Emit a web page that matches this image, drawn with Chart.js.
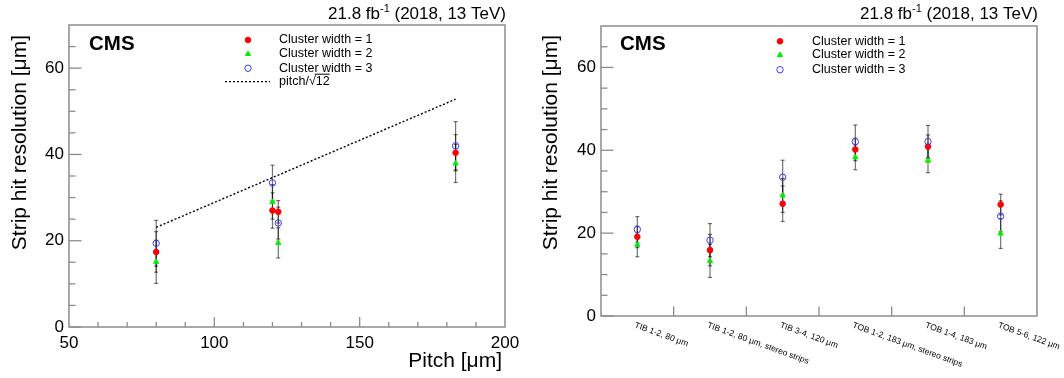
<!DOCTYPE html>
<html>
<head>
<meta charset="utf-8">
<script src="https://cdn.jsdelivr.net/npm/chart.js@4.4.1/dist/chart.umd.min.js"></script>
<style>
    html, body { margin: 0; padding: 0; background: #fff; }
    #wrap { position: relative; width: 1064px; height: 378px; overflow: hidden; }
    .panel { position: absolute; top: 0; }
</style>
</head>
<body>
<div id="wrap">
    <div class="panel" style="left:0"><canvas id="pitchChart" width="532" height="378"></canvas></div>
    <div class="panel" style="left:532px"><canvas id="layerChart" width="532" height="378"></canvas></div>
</div>
<script>
// Painel esquerdo: resolução vs pitch
const pitch = [80, 120, 122, 183];
const pitchCw1 = [17.4, 27.0, 26.7, 40.4];
const pitchCw2 = [15.1, 29.0, 19.5, 37.9];
const pitchCw3 = [19.4, 33.4, 24.1, 42.0];
const pitchErr1 = [4.7, 4.1, 2.6, 4.2];
const pitchErr2 = [5.0, 4.0, 3.5, 4.4];
const pitchErr3 = [5.3, 4.1, 3.7, 5.6];
const sqrt12X = [80, 183];
const sqrt12Y = [23.1, 52.8];

// Painel direito: resolução por camada
const layers = ['TIB 1-2, 80 \u03bcm', 'TIB 1-2, 80 \u03bcm, stereo strips', 'TIB 3-4, 120 \u03bcm',
    'TOB 1-2, 183 \u03bcm, stereo strips', 'TOB 1-4, 183 \u03bcm', 'TOB 5-6, 122 \u03bcm'];
const layerCw1 = [19.1, 15.9, 27.1, 40.2, 40.9, 26.9];
const layerCw2 = [17.2, 13.3, 29.1, 38.3, 37.5, 19.9];
const layerCw3 = [20.9, 18.3, 33.5, 42.1, 42.1, 24.1];
const layerErr1 = [2.6, 3.8, 4.3, 2.7, 2.8, 2.5];
const layerErr2 = [2.9, 4.0, 4.1, 3.0, 2.9, 3.6];
const layerErr3 = [3.1, 4.0, 4.1, 4.0, 3.9, 3.7];

const legendLabels = ['Cluster width = 1', 'Cluster width = 2', 'Cluster width = 3'];

const FONT = "'Liberation Sans', Arial, Helvetica, sans-serif";
const RED = '#ff0000', GREEN = '#00ee00', BLUE = '#3a3aff';
const markers = [
    { pointStyle: 'circle', radius: 2.8, bg: RED, border: RED, bw: 1 },
    { pointStyle: 'triangle', radius: 3, bg: GREEN, border: GREEN, bw: 1 },
    { pointStyle: 'circle', radius: 3.2, bg: 'rgba(0,0,0,0)', border: BLUE, bw: 1 }
];

function markerDataset(label, data, m) {
    return {
        label: label, data: data, showLine: false,
        pointStyle: m.pointStyle, pointRadius: m.radius,
        pointBackgroundColor: m.bg, pointBorderColor: m.border, pointBorderWidth: m.bw,
        backgroundColor: m.bg, borderColor: m.border
    };
}

function line(ctx, x1, y1, x2, y2) {
    ctx.beginPath(); ctx.moveTo(x1, y1); ctx.lineTo(x2, y2); ctx.stroke();
}

function drawErrors(chart, xs, ys, errs) {
    const { ctx, scales: { x, y } } = chart;
    ctx.save();
    ctx.strokeStyle = 'rgba(0,0,0,0.55)';
    ctx.lineWidth = 1.2;
    xs.forEach((xv, i) => {
        const px = x.getPixelForValue(xv);
        const top = y.getPixelForValue(ys[i] + errs[i]);
        const bot = y.getPixelForValue(ys[i] - errs[i]);
        line(ctx, px, top, px, bot);
        line(ctx, px - 2, top, px + 2, top);
        line(ctx, px - 2, bot, px + 2, bot);
    });
    ctx.restore();
}

function drawFrame(chart, xTickList) {
    const { ctx, chartArea: a, scales: { y } } = chart;
    ctx.save();
    ctx.strokeStyle = '#8c8c8c';
    ctx.lineWidth = 1.5;
    ctx.strokeRect(a.left, a.top, a.right - a.left, a.bottom - a.top);
    ctx.lineWidth = 1.3;
    for (let v = 0; v < 70; v += 5) {
        const py = y.getPixelForValue(v);
        line(ctx, a.left, py, a.left + (v % 20 === 0 ? 12.5 : 6.5), py);
    }
    xTickList.forEach(t => line(ctx, t.px, a.bottom, t.px, a.bottom - t.len));
    ctx.restore();
}

function drawHeader(chart, cmsX) {
    const { ctx, chartArea: a } = chart;
    ctx.save();
    ctx.fillStyle = '#000';
    ctx.textBaseline = 'alphabetic';
    ctx.font = '17px ' + FONT;
    const t1 = '21.8 fb', t3 = ' (2018, 13 TeV)';
    const w1 = ctx.measureText(t1).width, w3 = ctx.measureText(t3).width;
    ctx.font = '11px ' + FONT;
    const w2 = ctx.measureText('-1').width;
    let sx = a.right + 1 - (w1 + w2 + w3);
    ctx.font = '17px ' + FONT;
    ctx.fillText(t1, sx, 18.5);
    ctx.font = '11px ' + FONT;
    ctx.fillText('-1', sx + w1, 11.5);
    ctx.font = '17px ' + FONT;
    ctx.fillText(t3, sx + w1 + w2, 18.5);
    // CMS
    ctx.font = 'bold 20.5px ' + FONT;
    ctx.fillText('CMS', cmsX, 50);
    ctx.restore();
}

function drawYTitle(chart, cx) {
    const ctx = chart.ctx;
    ctx.save();
    ctx.fillStyle = '#000';
    ctx.font = '21px ' + FONT;
    ctx.translate(cx, 35);
    ctx.rotate(-Math.PI / 2);
    ctx.textAlign = 'right';
    ctx.textBaseline = 'middle';
    ctx.fillText('Strip hit resolution [\u03bcm]', 0, 0);
    ctx.restore();
}

function drawLegend(chart, mx, tx, rows, withLine) {
    const ctx = chart.ctx;
    ctx.save();
    ctx.font = '12.5px ' + FONT;
    ctx.textBaseline = 'middle';
    markers.forEach((m, i) => {
        ctx.fillStyle = m.bg;
        ctx.strokeStyle = m.border;
        ctx.lineWidth = m.bw;
        Chart.helpers.drawPoint(ctx, { pointStyle: m.pointStyle, radius: m.radius, rotation: 0, borderWidth: m.bw }, mx, rows[i]);
        ctx.fillStyle = '#000';
        ctx.fillText(legendLabels[i], tx, rows[i]);
    });
    if (withLine) {
        const ly = rows[3];
        ctx.strokeStyle = '#000';
        ctx.lineWidth = 1.3;
        ctx.setLineDash([2, 2]);
        line(ctx, mx - 23, ly, mx + 22, ly);
        ctx.setLineDash([]);
        const p1 = 'pitch/', p2 = '\u221a', p3 = '12';
        const w1 = ctx.measureText(p1).width, w2 = ctx.measureText(p2).width, w3 = ctx.measureText(p3).width;
        ctx.fillText(p1 + p2 + p3, tx, ly);
        ctx.lineWidth = 1;
        line(ctx, tx + w1 + w2 - 1, ly - 7.5, tx + w1 + w2 + w3, ly - 7.5);
    }
    ctx.restore();
}

// ============================================================
// Gráfico 1: pitch
// ============================================================
const pitchPlugin = {
    id: 'pitchDecor',
    beforeDatasetsDraw(chart) {
        const xs = chart.scales.x;
        const ticks = [];
        for (let v = 60; v < 200; v += 10) {
            ticks.push({ px: xs.getPixelForValue(v), len: v % 50 === 0 ? 10 : 5 });
        }
        drawFrame(chart, ticks);
        drawErrors(chart, pitch, pitchCw1, pitchErr1);
        drawErrors(chart, pitch, pitchCw2, pitchErr2);
        drawErrors(chart, pitch, pitchCw3, pitchErr3);
    },
    afterDraw(chart) {
        const ctx = chart.ctx, a = chart.chartArea;
        drawHeader(chart, 89);
        drawYTitle(chart, 20.5);
        drawLegend(chart, 248, 279, [40, 54, 68.3, 81.7], true);
        ctx.save();
        ctx.fillStyle = '#000';
        ctx.font = '21px ' + FONT;
        ctx.textAlign = 'right';
        ctx.fillText('Pitch [\u03bcm]', a.right - 3, 366.5);
        ctx.restore();
    }
};

new Chart(document.getElementById('pitchChart'), {
    type: 'scatter',
    data: {
        datasets: [
            {
                type: 'line', label: 'pitch/sqrt12',
                data: sqrt12X.map((v, i) => ({ x: v, y: sqrt12Y[i] })),
                borderColor: '#000', borderWidth: 1.4, borderDash: [2, 2],
                pointRadius: 0, fill: false
            },
            markerDataset(legendLabels[2], pitch.map((v, i) => ({ x: v, y: pitchCw3[i] })), markers[2]),
            markerDataset(legendLabels[1], pitch.map((v, i) => ({ x: v, y: pitchCw2[i] })), markers[1]),
            markerDataset(legendLabels[0], pitch.map((v, i) => ({ x: v, y: pitchCw1[i] })), markers[0])
        ]
    },
    options: {
        responsive: false, animation: false, events: [],
        layout: { padding: { top: 25, right: 27, left: 0, bottom: 0 } },
        plugins: { legend: { display: false }, tooltip: { enabled: false } },
        scales: {
            x: {
                type: 'linear', min: 50, max: 200,
                grid: { display: false, drawTicks: false }, border: { display: false },
                ticks: { stepSize: 50, padding: 6, color: '#000', font: { size: 17, family: FONT } },
                afterFit: s => { s.height = 51; }
            },
            y: {
                min: 0, max: 70,
                grid: { display: false, drawTicks: false }, border: { display: false },
                ticks: { stepSize: 20, includeBounds: false, padding: 5, color: '#000', font: { size: 17, family: FONT } },
                afterFit: s => { s.width = 69; }
            }
        }
    },
    plugins: [pitchPlugin]
});

// ============================================================
// Gráfico 2: camadas
// ============================================================
const layerIdx = layers.map((l, i) => i);
const layerPlugin = {
    id: 'layerDecor',
    beforeDatasetsDraw(chart) {
        const xs = chart.scales.x;
        const ticks = [];
        for (let i = 0; i < layers.length - 1; i++) {
            ticks.push({ px: (xs.getPixelForValue(i) + xs.getPixelForValue(i + 1)) / 2, len: 9.5 });
        }
        drawFrame(chart, ticks);
        drawErrors(chart, layerIdx, layerCw1, layerErr1);
        drawErrors(chart, layerIdx, layerCw2, layerErr2);
        drawErrors(chart, layerIdx, layerCw3, layerErr3);
    },
    afterDraw(chart) {
        const ctx = chart.ctx, a = chart.chartArea, xs = chart.scales.x;
        drawHeader(chart, 88);
        drawYTitle(chart, 19);
        drawLegend(chart, 248, 280, [41.3, 55, 69.7], false);
        // rótulos inclinados do eixo x
        ctx.save();
        ctx.fillStyle = '#000';
        ctx.font = '8.5px ' + FONT;
        ctx.textAlign = 'left';
        ctx.textBaseline = 'top';
        layers.forEach((lab, i) => {
            ctx.save();
            ctx.translate(xs.getPixelForValue(i) - 1, a.bottom + 5);
            ctx.rotate(20 * Math.PI / 180);
            ctx.fillText(lab, 0, 0);
            ctx.restore();
        });
        ctx.restore();
    }
};

new Chart(document.getElementById('layerChart'), {
    type: 'line',
    data: {
        labels: layers,
        datasets: [
            markerDataset(legendLabels[2], layerCw3, markers[2]),
            markerDataset(legendLabels[1], layerCw2, markers[1]),
            markerDataset(legendLabels[0], layerCw1, markers[0])
        ]
    },
    options: {
        responsive: false, animation: false, events: [],
        layout: { padding: { top: 26, right: 27, left: 0, bottom: 0 } },
        plugins: { legend: { display: false }, tooltip: { enabled: false } },
        scales: {
            x: {
                type: 'category', offset: true,
                grid: { display: false, drawTicks: false }, border: { display: false },
                ticks: { display: false },
                afterFit: s => { s.height = 62; }
            },
            y: {
                min: 0, max: 70,
                grid: { display: false, drawTicks: false }, border: { display: false },
                ticks: { stepSize: 20, includeBounds: false, padding: 5, color: '#000', font: { size: 17, family: FONT } },
                afterFit: s => { s.width = 69; }
            }
        }
    },
    plugins: [layerPlugin]
});
</script>
</body>
</html>
